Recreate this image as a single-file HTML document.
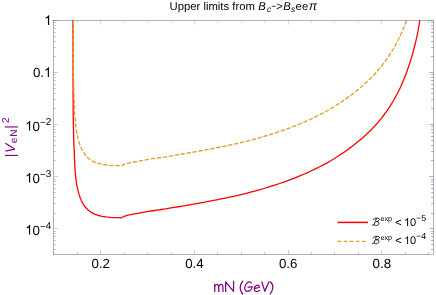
<!DOCTYPE html>
<html><head><meta charset="utf-8"><title>plot</title>
<style>
html,body{margin:0;padding:0;background:#fff;}
body{width:436px;height:295px;overflow:hidden;}
svg{display:block;will-change:transform;}
text{font-family:"Liberation Sans",sans-serif;text-rendering:geometricPrecision;}
</style></head><body>
<svg width="436" height="295" viewBox="0 0 436 295">
<rect width="436" height="295" fill="#fff"/>
<defs><clipPath id="c"><rect x="53.50" y="20.00" width="380.00" height="234.50"/></clipPath></defs>

<g clip-path="url(#c)" fill="none" stroke-linejoin="round">
<path d="M72.79 17.99 L72.79 20.49 L72.85 24.28 L72.90 28.08 L72.94 31.89 L72.97 35.71 L72.99 39.53 L73.01 43.36 L73.03 47.20 L73.04 51.05 L73.04 54.90 L73.05 58.75 L73.05 62.61 L73.05 66.48 L73.05 70.35 L73.05 74.22 L73.05 78.09 L73.05 81.97 L73.05 85.85 L73.06 89.73 L73.07 93.62 L73.09 97.50 L73.11 101.38 L73.14 105.27 L73.17 109.15 L73.21 113.03 L73.27 116.91 L73.33 120.79 L73.40 124.66 L73.48 128.53 L73.57 132.40 L73.67 136.26 L73.79 140.12 L73.92 143.98 L74.07 147.82 L74.21 151.67 L74.35 155.50 L74.50 159.33 L74.67 163.15 L74.87 166.97 L75.12 170.77 L75.44 174.57 L75.84 178.36 L76.36 182.13 L77.00 185.90 L77.82 189.66 L78.80 193.40 L79.98 197.12 L81.43 200.72 L83.23 204.13 L85.46 207.26 L88.11 210.03 L91.14 212.34 L94.51 214.12 L98.15 215.43 L101.98 216.35 L105.91 216.95 L109.86 217.32 L113.78 217.54 L117.60 217.68 L121.26 217.84 L123.40 216.70 L128.00 215.22 L132.08 214.43 L136.18 213.66 L140.30 212.90 L144.44 212.15 L148.60 211.42 L152.78 210.75 L156.97 210.13 L161.18 209.51 L165.40 208.89 L169.63 208.17 L173.87 207.46 L178.13 206.74 L182.39 206.02 L186.65 205.29 L190.93 204.55 L195.20 203.80 L199.48 203.04 L203.76 202.27 L208.05 201.48 L212.33 200.67 L216.61 199.84 L220.88 198.98 L225.15 198.11 L229.42 197.21 L233.67 196.28 L237.92 195.32 L242.16 194.33 L246.39 193.30 L250.61 192.24 L254.81 191.14 L259.00 189.97 L263.17 188.75 L267.33 187.49 L271.46 186.18 L275.58 184.84 L279.68 183.50 L283.75 182.11 L287.80 180.65 L291.82 179.14 L295.82 177.56 L299.79 175.93 L303.74 174.26 L307.65 172.54 L311.53 170.75 L315.38 168.89 L319.19 167.02 L322.97 165.08 L326.72 163.06 L330.42 160.96 L334.09 158.76 L338.66 155.80 L342.27 153.41 L345.83 150.93 L349.37 148.38 L352.87 145.75 L356.32 143.04 L359.70 140.26 L363.03 137.41 L366.28 134.48 L369.46 131.49 L372.56 128.42 L375.44 125.29 L378.22 122.08 L380.90 118.82 L383.50 115.49 L386.00 112.09 L388.40 108.64 L390.70 105.12 L392.90 101.55 L395.00 97.91 L397.01 94.22 L398.92 90.48 L400.72 86.68 L402.43 82.82 L404.05 78.92 L405.59 74.97 L407.08 70.96 L408.49 66.91 L409.84 62.81 L411.18 58.67 L412.43 54.48 L413.60 50.25 L414.68 45.98 L415.73 41.67 L416.74 37.32 L417.64 32.93 L418.47 28.50 L419.23 24.04 L419.91 19.55 L420.29 17.05" stroke="#ff0000" stroke-width="1.3"/>
<path d="M72.80 -40.00 L72.79 -34.04 L72.79 -31.54 L72.85 -27.75 L72.90 -23.95 L72.94 -20.14 L72.97 -16.32 L72.99 -12.50 L73.01 -8.67 L73.03 -4.83 L73.04 -0.98 L73.04 2.87 L73.05 6.72 L73.05 10.58 L73.05 14.45 L73.05 18.32 L73.05 22.19 L73.05 26.06 L73.05 29.94 L73.05 33.82 L73.06 37.70 L73.07 41.59 L73.09 45.47 L73.11 49.35 L73.14 53.24 L73.17 57.12 L73.21 61.00 L73.27 64.88 L73.33 68.76 L73.40 72.63 L73.48 76.50 L73.57 80.37 L73.67 84.23 L73.79 88.09 L73.92 91.95 L74.07 95.79 L74.21 99.64 L74.35 103.47 L74.50 107.30 L74.67 111.12 L74.87 114.94 L75.12 118.74 L75.44 122.54 L75.84 126.33 L76.36 130.10 L77.00 133.87 L77.82 137.63 L78.80 141.37 L79.98 145.09 L81.43 148.69 L83.23 152.10 L85.46 155.23 L88.11 158.00 L91.14 160.31 L94.51 162.09 L98.15 163.40 L101.98 164.32 L105.91 164.92 L109.86 165.29 L113.78 165.51 L117.60 165.65 L121.26 165.81 L123.40 164.67 L128.00 163.19 L132.08 162.40 L136.18 161.63 L140.30 160.87 L144.44 160.12 L148.60 159.39 L152.78 158.72 L156.97 158.10 L161.18 157.48 L165.40 156.86 L169.63 156.14 L173.87 155.43 L178.13 154.71 L182.39 153.99 L186.65 153.26 L190.93 152.52 L195.20 151.77 L199.48 151.01 L203.76 150.24 L208.05 149.45 L212.33 148.64 L216.61 147.81 L220.88 146.95 L225.15 146.08 L229.42 145.18 L233.67 144.25 L237.92 143.29 L242.16 142.30 L246.39 141.27 L250.61 140.21 L254.81 139.11 L259.00 137.94 L263.17 136.72 L267.33 135.46 L271.46 134.15 L275.58 132.81 L279.68 131.47 L283.75 130.08 L287.80 128.62 L291.82 127.11 L295.82 125.53 L299.79 123.90 L303.74 122.23 L307.65 120.51 L311.53 118.72 L315.38 116.86 L319.19 114.99 L322.97 113.05 L326.72 111.03 L330.42 108.93 L334.09 106.73 L338.66 103.77 L342.27 101.38 L345.83 98.90 L349.37 96.35 L352.87 93.72 L356.32 91.01 L359.70 88.23 L363.03 85.38 L366.28 82.45 L369.46 79.46 L372.56 76.39 L375.44 73.26 L378.22 70.05 L380.90 66.79 L383.50 63.46 L386.00 60.06 L388.40 56.61 L390.70 53.09 L392.90 49.52 L395.00 45.88 L397.01 42.19 L398.92 38.45 L400.72 34.65 L402.43 30.79 L404.05 26.89 L405.59 22.94 L407.08 18.93 L408.49 14.88 L409.84 10.78 L411.18 6.64 L412.43 2.45 L413.60 -1.78 L414.68 -6.05 L415.73 -10.36 L416.74 -14.71 L417.64 -19.10 L418.47 -23.53 L419.23 -27.99 L419.91 -32.48 L420.29 -34.98" stroke="#e19c24" stroke-width="1.3" stroke-dasharray="4.35 1.7"/>
</g>
<line x1="53.50" y1="254.50" x2="53.50" y2="252.00" stroke="#666666" stroke-width="0.34"/>
<line x1="53.50" y1="20.50" x2="53.50" y2="23.00" stroke="#00ff00" stroke-width="0.34"/>
<line x1="77.50" y1="254.50" x2="77.50" y2="252.00" stroke="#666666" stroke-width="0.34"/>
<line x1="77.50" y1="20.50" x2="77.50" y2="23.00" stroke="#00ff00" stroke-width="0.34"/>
<line x1="100.50" y1="254.50" x2="100.50" y2="250.30" stroke="#666666" stroke-width="0.34"/>
<line x1="100.50" y1="20.50" x2="100.50" y2="24.70" stroke="#00ff00" stroke-width="0.34"/>
<line x1="124.50" y1="254.50" x2="124.50" y2="252.00" stroke="#666666" stroke-width="0.34"/>
<line x1="124.50" y1="20.50" x2="124.50" y2="23.00" stroke="#00ff00" stroke-width="0.34"/>
<line x1="147.50" y1="254.50" x2="147.50" y2="252.00" stroke="#666666" stroke-width="0.34"/>
<line x1="147.50" y1="20.50" x2="147.50" y2="23.00" stroke="#00ff00" stroke-width="0.34"/>
<line x1="171.50" y1="254.50" x2="171.50" y2="252.00" stroke="#666666" stroke-width="0.34"/>
<line x1="171.50" y1="20.50" x2="171.50" y2="23.00" stroke="#00ff00" stroke-width="0.34"/>
<line x1="194.50" y1="254.50" x2="194.50" y2="250.30" stroke="#666666" stroke-width="0.34"/>
<line x1="194.50" y1="20.50" x2="194.50" y2="24.70" stroke="#00ff00" stroke-width="0.34"/>
<line x1="217.50" y1="254.50" x2="217.50" y2="252.00" stroke="#666666" stroke-width="0.34"/>
<line x1="217.50" y1="20.50" x2="217.50" y2="23.00" stroke="#00ff00" stroke-width="0.34"/>
<line x1="241.50" y1="254.50" x2="241.50" y2="252.00" stroke="#666666" stroke-width="0.34"/>
<line x1="241.50" y1="20.50" x2="241.50" y2="23.00" stroke="#00ff00" stroke-width="0.34"/>
<line x1="264.50" y1="254.50" x2="264.50" y2="252.00" stroke="#666666" stroke-width="0.34"/>
<line x1="264.50" y1="20.50" x2="264.50" y2="23.00" stroke="#00ff00" stroke-width="0.34"/>
<line x1="288.50" y1="254.50" x2="288.50" y2="250.30" stroke="#666666" stroke-width="0.34"/>
<line x1="288.50" y1="20.50" x2="288.50" y2="24.70" stroke="#00ff00" stroke-width="0.34"/>
<line x1="311.50" y1="254.50" x2="311.50" y2="252.00" stroke="#666666" stroke-width="0.34"/>
<line x1="311.50" y1="20.50" x2="311.50" y2="23.00" stroke="#00ff00" stroke-width="0.34"/>
<line x1="334.50" y1="254.50" x2="334.50" y2="252.00" stroke="#666666" stroke-width="0.34"/>
<line x1="334.50" y1="20.50" x2="334.50" y2="23.00" stroke="#00ff00" stroke-width="0.34"/>
<line x1="358.50" y1="254.50" x2="358.50" y2="252.00" stroke="#666666" stroke-width="0.34"/>
<line x1="358.50" y1="20.50" x2="358.50" y2="23.00" stroke="#00ff00" stroke-width="0.34"/>
<line x1="381.50" y1="254.50" x2="381.50" y2="250.30" stroke="#666666" stroke-width="0.34"/>
<line x1="381.50" y1="20.50" x2="381.50" y2="24.70" stroke="#00ff00" stroke-width="0.34"/>
<line x1="405.50" y1="254.50" x2="405.50" y2="252.00" stroke="#666666" stroke-width="0.34"/>
<line x1="405.50" y1="20.50" x2="405.50" y2="23.00" stroke="#00ff00" stroke-width="0.34"/>
<line x1="428.50" y1="254.50" x2="428.50" y2="252.00" stroke="#666666" stroke-width="0.34"/>
<line x1="428.50" y1="20.50" x2="428.50" y2="23.00" stroke="#00ff00" stroke-width="0.34"/>
<line x1="53.50" y1="20.50" x2="57.70" y2="20.50" stroke="#666666" stroke-width="0.34"/>
<line x1="433.50" y1="20.50" x2="429.30" y2="20.50" stroke="#0000ff" stroke-width="0.34"/>
<line x1="53.50" y1="72.50" x2="57.70" y2="72.50" stroke="#666666" stroke-width="0.34"/>
<line x1="433.50" y1="72.50" x2="429.30" y2="72.50" stroke="#0000ff" stroke-width="0.34"/>
<line x1="53.50" y1="56.50" x2="56.00" y2="56.50" stroke="#666666" stroke-width="0.34"/>
<line x1="433.50" y1="56.50" x2="431.00" y2="56.50" stroke="#0000ff" stroke-width="0.34"/>
<line x1="53.50" y1="47.50" x2="56.00" y2="47.50" stroke="#666666" stroke-width="0.34"/>
<line x1="433.50" y1="47.50" x2="431.00" y2="47.50" stroke="#0000ff" stroke-width="0.34"/>
<line x1="53.50" y1="41.50" x2="56.00" y2="41.50" stroke="#666666" stroke-width="0.34"/>
<line x1="433.50" y1="41.50" x2="431.00" y2="41.50" stroke="#0000ff" stroke-width="0.34"/>
<line x1="53.50" y1="36.50" x2="56.00" y2="36.50" stroke="#666666" stroke-width="0.34"/>
<line x1="433.50" y1="36.50" x2="431.00" y2="36.50" stroke="#0000ff" stroke-width="0.34"/>
<line x1="53.50" y1="32.50" x2="56.00" y2="32.50" stroke="#666666" stroke-width="0.34"/>
<line x1="433.50" y1="32.50" x2="431.00" y2="32.50" stroke="#0000ff" stroke-width="0.34"/>
<line x1="53.50" y1="28.50" x2="56.00" y2="28.50" stroke="#666666" stroke-width="0.34"/>
<line x1="433.50" y1="28.50" x2="431.00" y2="28.50" stroke="#0000ff" stroke-width="0.34"/>
<line x1="53.50" y1="25.50" x2="56.00" y2="25.50" stroke="#666666" stroke-width="0.34"/>
<line x1="433.50" y1="25.50" x2="431.00" y2="25.50" stroke="#0000ff" stroke-width="0.34"/>
<line x1="53.50" y1="22.50" x2="56.00" y2="22.50" stroke="#666666" stroke-width="0.34"/>
<line x1="433.50" y1="22.50" x2="431.00" y2="22.50" stroke="#0000ff" stroke-width="0.34"/>
<line x1="53.50" y1="124.50" x2="57.70" y2="124.50" stroke="#666666" stroke-width="0.34"/>
<line x1="433.50" y1="124.50" x2="429.30" y2="124.50" stroke="#0000ff" stroke-width="0.34"/>
<line x1="53.50" y1="108.50" x2="56.00" y2="108.50" stroke="#666666" stroke-width="0.34"/>
<line x1="433.50" y1="108.50" x2="431.00" y2="108.50" stroke="#0000ff" stroke-width="0.34"/>
<line x1="53.50" y1="99.50" x2="56.00" y2="99.50" stroke="#666666" stroke-width="0.34"/>
<line x1="433.50" y1="99.50" x2="431.00" y2="99.50" stroke="#0000ff" stroke-width="0.34"/>
<line x1="53.50" y1="93.50" x2="56.00" y2="93.50" stroke="#666666" stroke-width="0.34"/>
<line x1="433.50" y1="93.50" x2="431.00" y2="93.50" stroke="#0000ff" stroke-width="0.34"/>
<line x1="53.50" y1="88.50" x2="56.00" y2="88.50" stroke="#666666" stroke-width="0.34"/>
<line x1="433.50" y1="88.50" x2="431.00" y2="88.50" stroke="#0000ff" stroke-width="0.34"/>
<line x1="53.50" y1="84.50" x2="56.00" y2="84.50" stroke="#666666" stroke-width="0.34"/>
<line x1="433.50" y1="84.50" x2="431.00" y2="84.50" stroke="#0000ff" stroke-width="0.34"/>
<line x1="53.50" y1="80.50" x2="56.00" y2="80.50" stroke="#666666" stroke-width="0.34"/>
<line x1="433.50" y1="80.50" x2="431.00" y2="80.50" stroke="#0000ff" stroke-width="0.34"/>
<line x1="53.50" y1="77.50" x2="56.00" y2="77.50" stroke="#666666" stroke-width="0.34"/>
<line x1="433.50" y1="77.50" x2="431.00" y2="77.50" stroke="#0000ff" stroke-width="0.34"/>
<line x1="53.50" y1="74.50" x2="56.00" y2="74.50" stroke="#666666" stroke-width="0.34"/>
<line x1="433.50" y1="74.50" x2="431.00" y2="74.50" stroke="#0000ff" stroke-width="0.34"/>
<line x1="53.50" y1="176.50" x2="57.70" y2="176.50" stroke="#666666" stroke-width="0.34"/>
<line x1="433.50" y1="176.50" x2="429.30" y2="176.50" stroke="#0000ff" stroke-width="0.34"/>
<line x1="53.50" y1="160.50" x2="56.00" y2="160.50" stroke="#666666" stroke-width="0.34"/>
<line x1="433.50" y1="160.50" x2="431.00" y2="160.50" stroke="#0000ff" stroke-width="0.34"/>
<line x1="53.50" y1="151.50" x2="56.00" y2="151.50" stroke="#666666" stroke-width="0.34"/>
<line x1="433.50" y1="151.50" x2="431.00" y2="151.50" stroke="#0000ff" stroke-width="0.34"/>
<line x1="53.50" y1="145.50" x2="56.00" y2="145.50" stroke="#666666" stroke-width="0.34"/>
<line x1="433.50" y1="145.50" x2="431.00" y2="145.50" stroke="#0000ff" stroke-width="0.34"/>
<line x1="53.50" y1="140.50" x2="56.00" y2="140.50" stroke="#666666" stroke-width="0.34"/>
<line x1="433.50" y1="140.50" x2="431.00" y2="140.50" stroke="#0000ff" stroke-width="0.34"/>
<line x1="53.50" y1="136.50" x2="56.00" y2="136.50" stroke="#666666" stroke-width="0.34"/>
<line x1="433.50" y1="136.50" x2="431.00" y2="136.50" stroke="#0000ff" stroke-width="0.34"/>
<line x1="53.50" y1="132.50" x2="56.00" y2="132.50" stroke="#666666" stroke-width="0.34"/>
<line x1="433.50" y1="132.50" x2="431.00" y2="132.50" stroke="#0000ff" stroke-width="0.34"/>
<line x1="53.50" y1="129.50" x2="56.00" y2="129.50" stroke="#666666" stroke-width="0.34"/>
<line x1="433.50" y1="129.50" x2="431.00" y2="129.50" stroke="#0000ff" stroke-width="0.34"/>
<line x1="53.50" y1="126.50" x2="56.00" y2="126.50" stroke="#666666" stroke-width="0.34"/>
<line x1="433.50" y1="126.50" x2="431.00" y2="126.50" stroke="#0000ff" stroke-width="0.34"/>
<line x1="53.50" y1="228.50" x2="57.70" y2="228.50" stroke="#666666" stroke-width="0.34"/>
<line x1="433.50" y1="228.50" x2="429.30" y2="228.50" stroke="#0000ff" stroke-width="0.34"/>
<line x1="53.50" y1="213.50" x2="56.00" y2="213.50" stroke="#666666" stroke-width="0.34"/>
<line x1="433.50" y1="213.50" x2="431.00" y2="213.50" stroke="#0000ff" stroke-width="0.34"/>
<line x1="53.50" y1="203.50" x2="56.00" y2="203.50" stroke="#666666" stroke-width="0.34"/>
<line x1="433.50" y1="203.50" x2="431.00" y2="203.50" stroke="#0000ff" stroke-width="0.34"/>
<line x1="53.50" y1="197.50" x2="56.00" y2="197.50" stroke="#666666" stroke-width="0.34"/>
<line x1="433.50" y1="197.50" x2="431.00" y2="197.50" stroke="#0000ff" stroke-width="0.34"/>
<line x1="53.50" y1="192.50" x2="56.00" y2="192.50" stroke="#666666" stroke-width="0.34"/>
<line x1="433.50" y1="192.50" x2="431.00" y2="192.50" stroke="#0000ff" stroke-width="0.34"/>
<line x1="53.50" y1="188.50" x2="56.00" y2="188.50" stroke="#666666" stroke-width="0.34"/>
<line x1="433.50" y1="188.50" x2="431.00" y2="188.50" stroke="#0000ff" stroke-width="0.34"/>
<line x1="53.50" y1="184.50" x2="56.00" y2="184.50" stroke="#666666" stroke-width="0.34"/>
<line x1="433.50" y1="184.50" x2="431.00" y2="184.50" stroke="#0000ff" stroke-width="0.34"/>
<line x1="53.50" y1="181.50" x2="56.00" y2="181.50" stroke="#666666" stroke-width="0.34"/>
<line x1="433.50" y1="181.50" x2="431.00" y2="181.50" stroke="#0000ff" stroke-width="0.34"/>
<line x1="53.50" y1="179.50" x2="56.00" y2="179.50" stroke="#666666" stroke-width="0.34"/>
<line x1="433.50" y1="179.50" x2="431.00" y2="179.50" stroke="#0000ff" stroke-width="0.34"/>
<line x1="53.50" y1="249.50" x2="56.00" y2="249.50" stroke="#666666" stroke-width="0.34"/>
<line x1="433.50" y1="249.50" x2="431.00" y2="249.50" stroke="#0000ff" stroke-width="0.34"/>
<line x1="53.50" y1="244.50" x2="56.00" y2="244.50" stroke="#666666" stroke-width="0.34"/>
<line x1="433.50" y1="244.50" x2="431.00" y2="244.50" stroke="#0000ff" stroke-width="0.34"/>
<line x1="53.50" y1="240.50" x2="56.00" y2="240.50" stroke="#666666" stroke-width="0.34"/>
<line x1="433.50" y1="240.50" x2="431.00" y2="240.50" stroke="#0000ff" stroke-width="0.34"/>
<line x1="53.50" y1="236.50" x2="56.00" y2="236.50" stroke="#666666" stroke-width="0.34"/>
<line x1="433.50" y1="236.50" x2="431.00" y2="236.50" stroke="#0000ff" stroke-width="0.34"/>
<line x1="53.50" y1="233.50" x2="56.00" y2="233.50" stroke="#666666" stroke-width="0.34"/>
<line x1="433.50" y1="233.50" x2="431.00" y2="233.50" stroke="#0000ff" stroke-width="0.34"/>
<line x1="53.50" y1="231.50" x2="56.00" y2="231.50" stroke="#666666" stroke-width="0.34"/>
<line x1="433.50" y1="231.50" x2="431.00" y2="231.50" stroke="#0000ff" stroke-width="0.34"/>
<rect x="53.50" y="20.50" width="380.00" height="234.00" fill="none" stroke="#666666" stroke-width="0.5"/>
<text x="100.78" y="268.1" font-size="13.3" text-anchor="middle" fill="#000">0.2</text>
<text x="194.46" y="268.1" font-size="13.3" text-anchor="middle" fill="#000">0.4</text>
<text x="288.14" y="268.1" font-size="13.3" text-anchor="middle" fill="#000">0.6</text>
<text x="381.82" y="268.1" font-size="13.3" text-anchor="middle" fill="#000">0.8</text>
<g role="img" aria-label="1"><path d="M763 0H583V1147Q518 1085 412.5 1023T223 930V1104Q374 1175 487 1276T647 1472H763Z" transform="translate(44.20 24.90) scale(0.00649 -0.00649)" fill="#000"/></g>
<g role="img" aria-label="0.1"><text x="44.00" y="76.9" font-size="13.3" text-anchor="end" fill="#000">0.</text><path d="M763 0H583V1147Q518 1085 412.5 1023T223 930V1104Q374 1175 487 1276T647 1472H763Z" transform="translate(44.00 76.90) scale(0.00649 -0.00649)" fill="#000"/></g>
<g role="img" aria-label="10^-2"><path d="M763 0H583V1147Q518 1085 412.5 1023T223 930V1104Q374 1175 487 1276T647 1472H763Z" transform="translate(25.20 130.50) scale(0.00649 -0.00649)" fill="#000"/><text x="32.60" y="130.50" font-size="13.3" fill="#000">0<tspan font-size="10" dy="-4.5">−</tspan><tspan font-size="10" dy="-1.4">2</tspan></text></g>
<g role="img" aria-label="10^-3"><path d="M763 0H583V1147Q518 1085 412.5 1023T223 930V1104Q374 1175 487 1276T647 1472H763Z" transform="translate(25.20 182.55) scale(0.00649 -0.00649)" fill="#000"/><text x="32.60" y="182.55" font-size="13.3" fill="#000">0<tspan font-size="10" dy="-4.5">−</tspan><tspan font-size="10" dy="-1.4">3</tspan></text></g>
<g role="img" aria-label="10^-4"><path d="M763 0H583V1147Q518 1085 412.5 1023T223 930V1104Q374 1175 487 1276T647 1472H763Z" transform="translate(25.20 234.60) scale(0.00649 -0.00649)" fill="#000"/><text x="32.60" y="234.60" font-size="13.3" fill="#000">0<tspan font-size="10" dy="-4.5">−</tspan><tspan font-size="10" dy="-1.4">4</tspan></text></g>
<text x="169.50" y="9.80" font-size="11.3" fill="#000">Upper limits from</text>
<text x="258.20" y="9.80" font-size="11.3" fill="#000" font-style="italic">B</text>
<text x="267.10" y="12.00" font-size="8.4" fill="#000" font-style="italic">c</text>
<g transform="translate(271.3 0) scale(0.74 1)"><text x="0.00" y="9.80" font-size="11.3" fill="#000">−</text></g>
<text x="276.30" y="9.80" font-size="11.3" fill="#000">&gt;</text>
<text x="283.30" y="9.80" font-size="11.3" fill="#000" font-style="italic">B</text>
<text x="290.90" y="12.00" font-size="8.4" fill="#000" font-style="italic">s</text>
<text x="295.60" y="9.80" font-size="11.3" fill="#000">ee</text>
<text x="308.70" y="9.80" font-size="12.3" fill="#000" font-style="italic">π</text>
<g transform="translate(15.2,156.5) rotate(-90)" fill="#800080" font-size="14">
<text x="-0.8" y="0">|</text>
<text x="3.64" y="0" font-style="italic">V</text>
<text x="13.3" y="1.8" font-size="10">e</text>
<text x="19.8" y="1.8" font-size="10">N</text>
<text x="27.8" y="0">|</text>
<text x="33.4" y="-6.5" font-size="10">2</text>
</g>
<g role="img" aria-label="mN (GeV)" fill="none" stroke="#800080" stroke-width="1.25" stroke-linecap="round" stroke-linejoin="round"><title>mN (GeV)</title>
<path d="M214.7 284.4L214.8 291.5M214.8 286.4C215.5 284.6 217.8 283.3 218.6 285.8L218.8 291.5M218.8 286.2C219.8 284.2 222.4 283.4 222.8 286L223 291.5"/>
<path d="M225.7 291.5L225.6 281.8L233.5 291.4L233.6 281.4"/>
<path d="M242.8 281.2C240.6 283.5 239.6 287.5 240.6 290C241 291.6 241.8 293 242.7 294"/>
<path d="M251.3 283C250.8 282 249.8 281.6 248.9 281.9C246.6 282.7 244.6 285.9 244.7 288.3C244.8 290.2 246 291.4 247.8 291.3C249.9 291.2 251.8 289.2 251.9 287.1M248.1 287.2L252.8 286.8"/>
<path d="M254.9 288.3L259.3 287.5C259.5 286 258.7 285 257.7 285.1C256 285.3 254.4 287.1 254.3 289C254.2 290.6 255.2 291.6 256.6 291.5C257.8 291.4 258.8 290.9 259.5 290.4"/>
<path d="M261.8 281.9L264.8 291.3L268.9 281.9"/>
<path d="M270.5 282C272.2 283.4 273.1 285.6 272.8 288C272.5 290.4 271.5 292.4 270.2 293.9"/>
</g>
<line x1="337.50" y1="222.40" x2="368.00" y2="222.40" stroke="#ff0000" stroke-width="1.5"/>
<line x1="337.5" y1="241.3" x2="368" y2="241.3" stroke="#e19c24" stroke-width="1.2" stroke-dasharray="3.7 2.4"/>
<g role="img" aria-label="B"><path transform="translate(0 -0.10)" d="M376.3 218.5C375.6 220.6 375 222.9 374.2 224.7C373.8 225.4 373 225.6 372.3 225.1M373.2 219.9C373.6 218.9 374.8 218.3 376.4 218.2C377.8 218.1 379.3 218.3 379.4 219.4C379.5 220.7 377.8 221.5 376.1 221.6C377.8 221.6 379.1 222.3 379 223.5C378.9 225 377 225.8 375.4 225.6C374.7 225.5 374.3 225.2 374.2 224.7" fill="none" stroke="#000" stroke-width="0.85" stroke-linecap="round" stroke-linejoin="round"/></g>
<text x="380.5" y="221.40" font-size="7.2" fill="#000">exp</text>
<text x="395.3" y="225.90" font-size="11" fill="#000">&lt;</text>
<path d="M763 0H583V1147Q518 1085 412.5 1023T223 930V1104Q374 1175 487 1276T647 1472H763Z" transform="translate(404.00 225.90) scale(0.00537 -0.00537)" fill="#000"/><text x="410.12" y="225.90" font-size="11" fill="#000">0</text>
<text x="416.1" y="221.20" font-size="8.8" fill="#000">−</text>
<text x="421.2" y="220.80" font-size="8.8" fill="#000">5</text>
<g role="img" aria-label="B"><path transform="translate(0 18.10)" d="M376.3 218.5C375.6 220.6 375 222.9 374.2 224.7C373.8 225.4 373 225.6 372.3 225.1M373.2 219.9C373.6 218.9 374.8 218.3 376.4 218.2C377.8 218.1 379.3 218.3 379.4 219.4C379.5 220.7 377.8 221.5 376.1 221.6C377.8 221.6 379.1 222.3 379 223.5C378.9 225 377 225.8 375.4 225.6C374.7 225.5 374.3 225.2 374.2 224.7" fill="none" stroke="#000" stroke-width="0.85" stroke-linecap="round" stroke-linejoin="round"/></g>
<text x="380.5" y="239.60" font-size="7.2" fill="#000">exp</text>
<text x="395.3" y="244.10" font-size="11" fill="#000">&lt;</text>
<path d="M763 0H583V1147Q518 1085 412.5 1023T223 930V1104Q374 1175 487 1276T647 1472H763Z" transform="translate(404.00 244.10) scale(0.00537 -0.00537)" fill="#000"/><text x="410.12" y="244.10" font-size="11" fill="#000">0</text>
<text x="416.1" y="239.40" font-size="8.8" fill="#000">−</text>
<text x="421.2" y="239.00" font-size="8.8" fill="#000">4</text>
</svg></body></html>
